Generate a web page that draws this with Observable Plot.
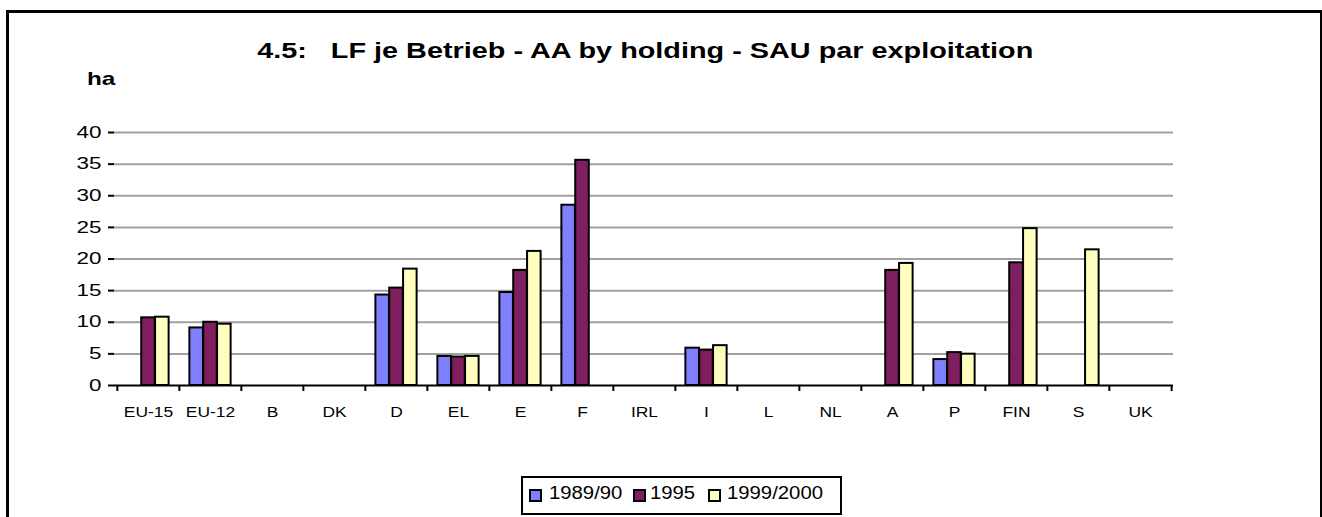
<!DOCTYPE html>
<html>
<head>
<meta charset="utf-8">
<script src="https://cdn.jsdelivr.net/npm/d3@7"></script>
<script src="https://cdn.jsdelivr.net/npm/@observablehq/plot@0.6"></script>
<style>
  html, body { margin: 0; padding: 0; background: #fff; }
  #wrap { position: relative; width: 1322px; height: 517px; overflow: hidden; background: #fff;
          font-family: "Liberation Sans", Arial, sans-serif; color: #000; }
  #chart { position: absolute; left: 0; top: 0; }
  #frame { position: absolute; left: 6px; top: 10px; width: 1311px; height: 620px;
           border-left: 3px solid #000; border-top: 3px solid #000; border-right: 2px solid #000;
           pointer-events: none; z-index: 5; }
  #title { position: absolute; left: 0; width: 1291px; top: 40px; text-align: center;
           font-weight: bold; font-size: 22px; line-height: 22px; white-space: pre; }
  #title span { display: inline-block; transform: scaleX(1.31); transform-origin: center; }
  #unit { position: absolute; left: 87px; top: 69px; font-weight: bold; font-size: 19px; line-height: 19px;
          transform: scaleX(1.28); transform-origin: left center; }
  #legend { position: absolute; left: 521px; top: 476px; width: 321px; height: 39px;
            border: 2px solid #000; box-sizing: border-box; }
  .sw { position: absolute; top: 489px; width: 9px; height: 9px; border: 2px solid #000; }
  .lab { position: absolute; top: 484.7px; font-size: 17.5px; line-height: 17.5px; white-space: pre;
         transform: scaleX(1.16); transform-origin: left center; }
</style>
</head>
<body>
<div id="wrap">
  <div id="chart"></div>
  <div id="frame"></div>
  <div id="title"><span>4.5:   LF je Betrieb - AA by holding - SAU par exploitation</span></div>
  <div id="unit">ha</div>
  <div id="legend"></div>
</div>
<script>
const categories = ["EU-15","EU-12","B","DK","D","EL","E","F","IRL","I","L","NL","A","P","FIN","S","UK"];
const seriesNames = ["1989/90","1995","1999/2000"];
const v1989 = [null, 9.1, null, null, 14.3, 4.6, 14.7, 28.5, null, 5.9, null, null, null, 4.1, null, null, null];
const v1995 = [10.7, 10.0, null, null, 15.4, 4.5, 18.2, 35.6, null, 5.6, null, null, 18.2, 5.2, 19.4, null, null];
const v2000 = [10.8, 9.7, null, null, 18.4, 4.6, 21.2, null, null, 6.3, null, null, 19.3, 4.95, 24.8, 21.45, null];
const seriesColors = ["#8080ff", "#801f60", "#ffffc0"];
const yTicks = [0, 5, 10, 15, 20, 25, 30, 35, 40];

const seriesValues = [v1989, v1995, v2000];
const data = [];
seriesValues.forEach((vals, si) => vals.forEach((v, ci) => {
  if (v != null) data.push({cat: categories[ci], series: seriesNames[si], value: v});
}));

const W = 1322, H = 440;
const mL = 114, mR = 149, mT = 132, mB = 55;
const bw = (W - mL - mR) / categories.length;
const barW = bw / 4.5;
const off = (bw - 3 * barW) / 2;

const barMarks = seriesNames.map((s, i) => Plot.barY(data.filter(d => d.series === s), {
  x: "cat", y: "value", fill: "series", stroke: "#000", strokeWidth: 2,
  insetLeft: off + i * barW, insetRight: bw - off - (i + 1) * barW
}));

const chart = Plot.plot({
  width: W, height: H,
  marginLeft: mL, marginRight: mR, marginTop: mT, marginBottom: mB,
  style: {fontFamily: "'Liberation Sans', Arial, sans-serif", fontSize: "16px", background: "transparent", color: "#000", overflow: "visible"},
  x: {domain: categories, padding: 0, axis: null},
  y: {domain: [0, 40], axis: null},
  color: {domain: seriesNames, range: seriesColors},
  marks: [
    Plot.ruleY(yTicks.filter(d => d > 0), {stroke: "#a0a0a0", strokeWidth: 2}),
    ...barMarks,
    Plot.ruleY([0], {stroke: "#000", strokeWidth: 2}),
    Plot.axisY({ticks: yTicks, tickSize: 6, tickPadding: 7, line: true, strokeWidth: 2, stroke: "#000", fontSize: 16, label: null, tickFormat: d => String(d)}),
    Plot.axisX({tickSize: 6, dx: -bw / 2, text: null, strokeWidth: 2, stroke: "#000", label: null}),
    Plot.axisX({ticks: [categories[categories.length - 1]], tickSize: 6, dx: bw / 2, text: null, strokeWidth: 2, stroke: "#000", label: null}),
    Plot.axisX({tickSize: 0, tickPadding: 21, fontSize: 15, label: null})
  ]
});
document.getElementById("chart").appendChild(chart);

// widen glyphs to match the reference's horizontally stretched lettering
function stretch(selector, k) {
  chart.querySelectorAll(selector).forEach(t => {
    const len = t.getComputedTextLength();
    t.setAttribute("textLength", (len * k).toFixed(2));
    t.setAttribute("lengthAdjust", "spacingAndGlyphs");
  });
}
stretch('g[aria-label="y-axis tick label"] text', 1.4);
stretch('g[aria-label="x-axis tick label"] text', 1.16);

// legend
const wrap = document.getElementById("wrap");
const swatchX = [529, 633, 708];
const labelX = [549, 650, 727];
seriesNames.forEach((s, i) => {
  const sw = document.createElement("div");
  sw.className = "sw";
  sw.style.left = swatchX[i] + "px";
  sw.style.background = seriesColors[i];
  const lab = document.createElement("div");
  lab.className = "lab";
  lab.style.left = labelX[i] + "px";
  lab.textContent = s;
  wrap.appendChild(sw);
  wrap.appendChild(lab);
});
</script>
</body>
</html>
